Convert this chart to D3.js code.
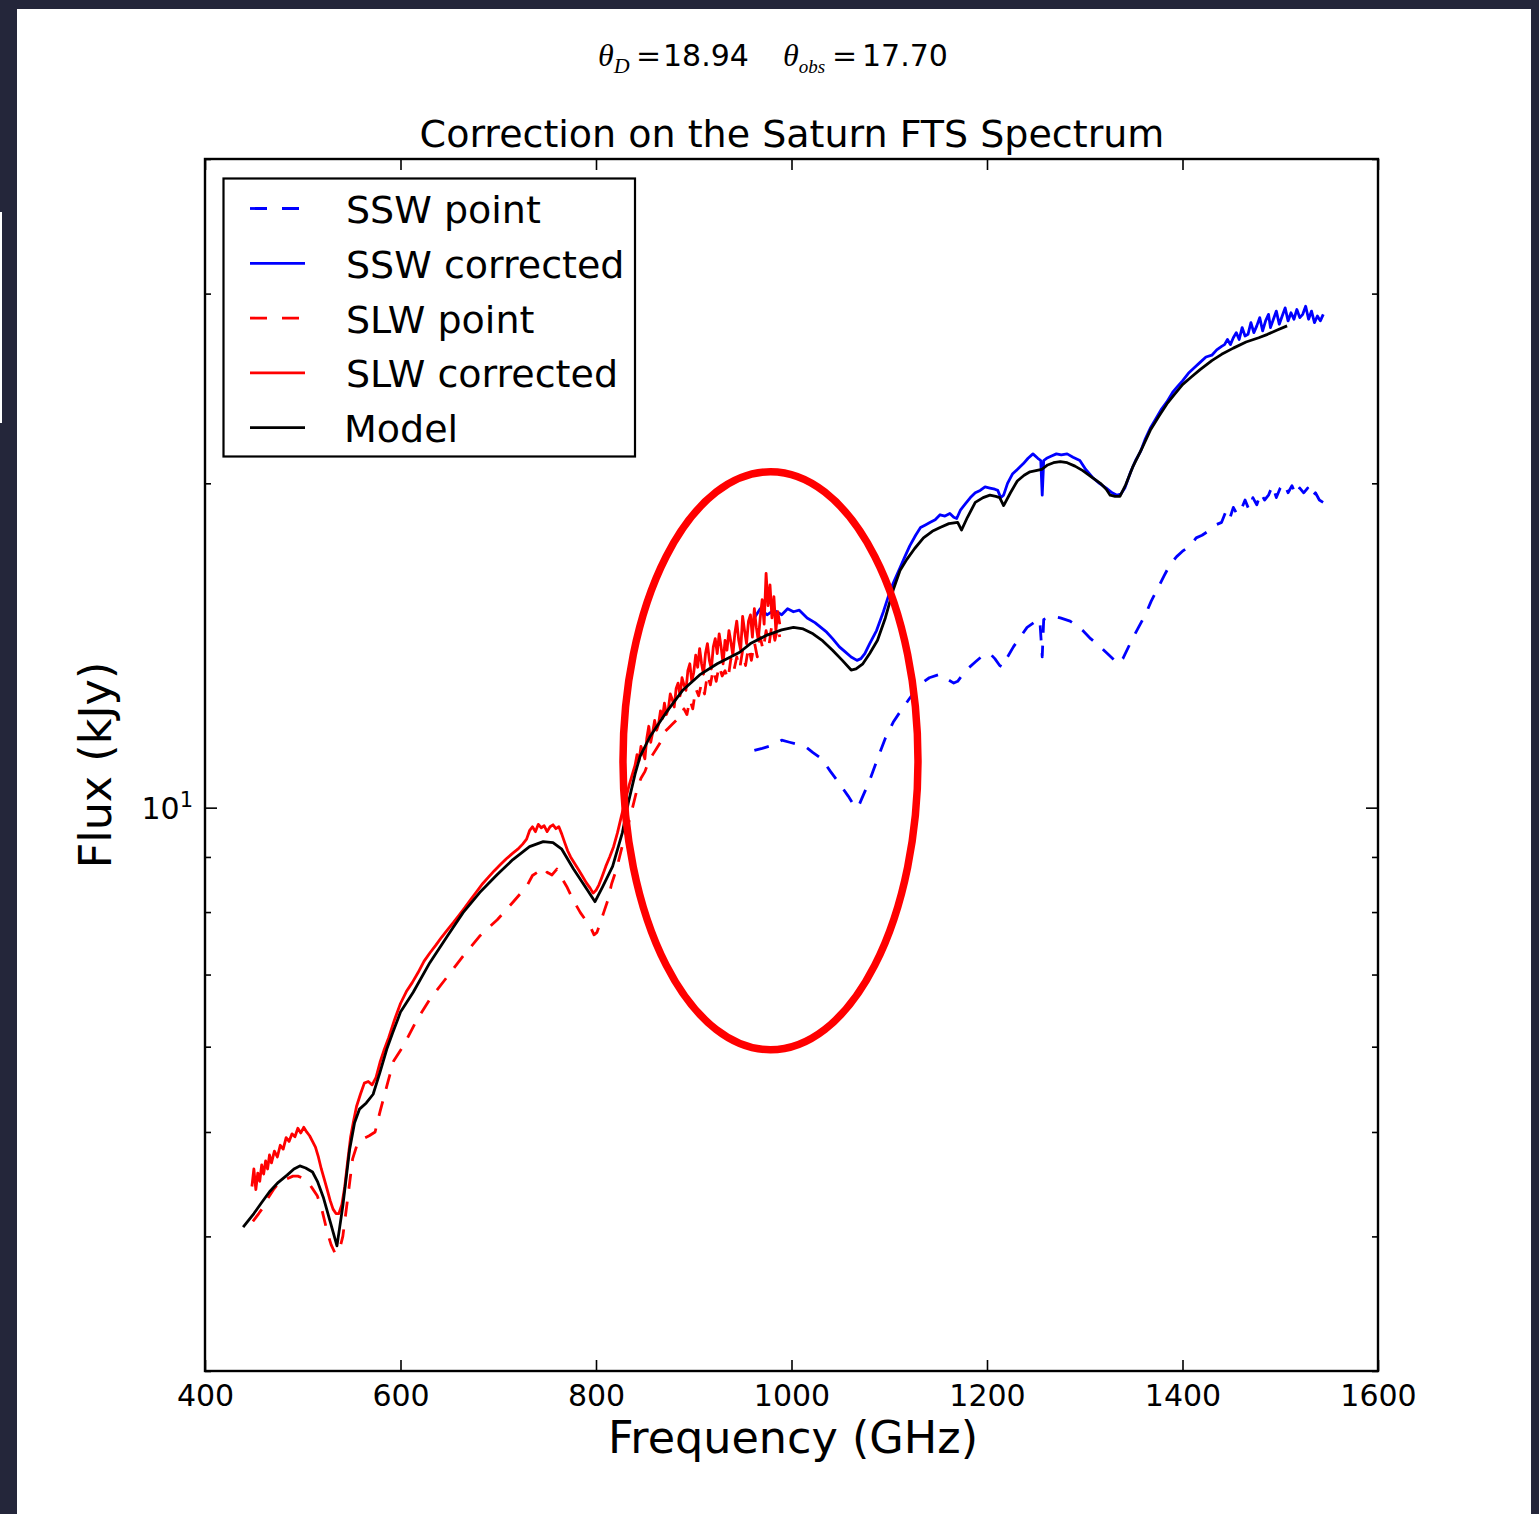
<!DOCTYPE html>
<html>
<head>
<meta charset="utf-8">
<script src="https://cdn.jsdelivr.net/npm/d3@7"></script>
<style>
  html, body { margin: 0; padding: 0; background: #24263a; }
  svg { display: block; }
  text { fill: #000; }
</style>
</head>
<body>
<svg id="chart" width="1539" height="1514" font-family="DejaVu Sans, sans-serif"></svg>
<script>
// ---- Data -------------------------------------------------------------
const xTicks = [400, 600, 800, 1000, 1200, 1400, 1600];
const yMajorTicks = [10];
const yMinorTicks = [3, 4, 5, 6, 7, 8, 9, 20, 30, 40];

const seriesNames = ["SSW point", "SSW corrected", "SLW point", "SLW corrected", "Model"];

// Model spectrum
const modelFreq = [439,450,458,466,475,484,491,497,503,510,515,521,528,535,541,548,553,558,565,572,579,586,592,600,613,630,648,664,681,699,715,732,746,756,765,777,791,799,807,817,827,833,840,845,855,873,889,906,924,947,958,975,990,1002,1012,1022,1032,1042,1052,1061,1066,1073,1080,1088,1096,1104,1111,1118,1126,1135,1144,1152,1161,1170,1174,1180,1188,1196,1203,1209,1213,1217,1224,1231,1238,1244,1250,1256,1262,1268,1275,1282,1290,1298,1306,1316,1322,1326,1331,1336,1342,1349,1358,1367,1376,1384,1392,1400,1409,1418,1430,1440,1452,1465,1478,1487,1497,1507];
const modelFlux = [4.08,4.2,4.3,4.40,4.49,4.56,4.62,4.65,4.63,4.59,4.5,4.35,4.13,3.92,4.27,4.82,5.1,5.25,5.32,5.42,5.68,5.97,6.18,6.46,6.74,7.18,7.6,7.99,8.34,8.67,8.95,9.2,9.3,9.28,9.15,8.77,8.39,8.18,8.45,8.82,9.48,10.1,10.75,11.15,11.63,12.3,12.86,13.28,13.6,13.94,14.2,14.46,14.62,14.7,14.65,14.5,14.28,14.0,13.7,13.42,13.45,13.6,13.9,14.3,15.0,15.92,16.6,17.0,17.4,17.8,18.05,18.2,18.35,18.4,18.1,18.6,19.2,19.4,19.5,19.45,19.4,19.07,19.6,20.1,20.35,20.5,20.55,20.6,20.8,20.9,20.95,20.9,20.75,20.55,20.3,20.0,19.75,19.5,19.45,19.45,19.95,20.7,21.5,22.4,23.1,23.7,24.2,24.7,25.1,25.5,26.0,26.35,26.7,27.05,27.3,27.5,27.75,28.0];

// SLW, corrected
const slwCorrFreq = [448,450,452,454,456,458,460,462,464,466,468,471,474,477,480,483,486,489,492,495,498,501,504,507,510,513,516,519,522,525,528,531,534,537,540,543,546,549,552,555,559,563,567,571,575,579,583,588,594,600,606,612,618,624,630,636,642,648,654,660,666,672,678,684,690,696,702,708,714,720,725,729,732,735,738,741,744,747,750,753,756,759,762,765,768,771,774,778,782,786,790,794,797,800,803,806,810,814,818,822,826,830,834,838,840,842,844,846,848,850,852,854,856,858,860,862,864,866,868,870,872,874,876,878,880,882,884,886,888,890,892,894,896,898,900,902,904,906,908,910,912,914,916,918,920,922,924,926,928,930,932,934,936,938,940,942,944,946,948,950,952,954,956,958,960,962,964,966,968,970,972,974,976,978,980,982,984,986,988];
const slwCorrFlux = [4.45,4.62,4.42,4.58,4.5,4.66,4.57,4.7,4.62,4.76,4.68,4.8,4.74,4.86,4.82,4.94,4.9,4.98,4.95,5.04,4.99,5.05,5.0,4.96,4.9,4.84,4.74,4.62,4.52,4.42,4.32,4.24,4.2,4.2,4.28,4.45,4.7,4.95,5.12,5.28,5.42,5.55,5.57,5.53,5.62,5.8,5.95,6.12,6.36,6.58,6.75,6.88,7.03,7.2,7.33,7.45,7.58,7.7,7.82,7.95,8.08,8.22,8.36,8.5,8.62,8.74,8.85,8.96,9.06,9.15,9.25,9.35,9.52,9.6,9.5,9.65,9.58,9.62,9.5,9.6,9.64,9.56,9.6,9.45,9.28,9.12,9.0,8.88,8.76,8.64,8.52,8.42,8.33,8.38,8.48,8.62,8.82,9.0,9.2,9.48,9.82,10.15,10.5,10.8,10.95,11.2,11.05,11.4,11.25,11.1,11.6,11.9,11.5,11.75,12.05,11.8,11.95,12.3,12.1,12.5,12.2,12.35,12.75,12.6,12.4,12.9,13.05,12.7,13.2,13.0,12.85,13.4,13.6,13.1,13.35,13.85,13.5,14.05,13.6,13.3,13.9,14.2,13.7,13.45,14.1,14.35,13.9,14.5,14.1,13.6,14.3,14.0,14.6,14.25,13.85,14.5,14.9,14.3,14.0,15.05,14.6,14.2,14.9,15.1,14.4,15.3,14.7,14.3,15.0,15.6,14.8,16.5,15.4,16.1,15.0,15.7,14.6,15.2,14.8];

// SLW, point source
const slwPointFreq = [449,455,459,465,470,477,483,490,495,500,505,510,515,520,525,529,533,537,541,546,551,556,562,568,574,579,587,593,603,617,630,648,664,681,699,715,729,735,740,745,750,755,760,765,770,777,784,790,794,798,801,804,808,812,816,821,828,835,842,846,850,854,858,862,866,870,874,878,882,886,890,893,896,899,902,905,908,911,914,917,920,923,926,929,932,935,938,941,944,947,950,953,956,959,962,965,968,971,974,977,980,983,986,988];
const slwPointFlux = [4.13,4.2,4.25,4.35,4.42,4.5,4.52,4.55,4.55,4.53,4.5,4.43,4.36,4.22,4.04,3.93,3.86,3.87,4.0,4.34,4.72,4.88,4.93,4.96,5.0,5.22,5.56,5.82,6.01,6.36,6.64,6.97,7.28,7.6,7.87,8.17,8.45,8.65,8.71,8.62,8.71,8.66,8.77,8.6,8.45,8.2,7.99,7.85,7.76,7.62,7.66,7.8,8.0,8.2,8.5,8.77,9.3,9.8,10.4,10.65,10.8,11.05,11.2,11.35,11.5,11.75,11.85,11.95,12.05,12.1,12.35,12.2,12.6,12.35,12.9,12.7,13.05,12.75,13.3,13.0,13.45,13.1,13.55,13.25,13.4,13.15,13.75,13.4,13.8,13.45,14.0,13.55,14.1,13.7,14.25,13.8,14.4,14.0,14.6,14.15,14.8,14.3,14.7,14.4];

// SSW, corrected
const sswCorrFreq = [962,968,975,982,990,996,1002,1008,1016,1024,1030,1036,1042,1049,1055,1061,1067,1071,1075,1080,1087,1094,1100,1104,1111,1116,1121,1127,1132,1137,1142,1147,1152,1157,1162,1166,1169,1173,1178,1183,1188,1193,1198,1203,1208,1211,1214,1217,1221,1226,1231,1237,1242,1247,1252,1255,1256.5,1258,1261,1266,1271,1276,1282,1288,1295,1301,1308,1315,1322,1328,1333,1337,1341,1347,1352,1357,1362,1367,1372,1378,1384,1390,1395,1400,1406,1412,1418,1424,1430,1435,1440,1443,1446,1449,1452,1455,1458,1461,1464,1467,1470,1473,1476,1479,1482,1485,1488,1490,1493,1496,1499,1502,1505,1508,1511,1514,1517,1520,1523,1526,1529,1532,1535,1538,1541,1544];
const sswCorrFlux = [15.0,15.3,15.1,15.25,15.1,15.3,15.2,15.25,15.0,14.85,14.7,14.55,14.35,14.1,13.95,13.8,13.7,13.75,13.9,14.2,14.6,15.2,15.8,16.15,16.7,17.1,17.5,17.9,18.2,18.3,18.4,18.5,18.7,18.65,18.75,18.6,18.55,18.9,19.15,19.4,19.6,19.7,19.85,19.8,19.75,19.7,19.4,19.5,20.0,20.4,20.6,20.85,21.1,21.3,21.1,21.0,19.5,21.0,21.1,21.2,21.3,21.25,21.3,21.15,21.0,20.6,20.25,20.0,19.8,19.6,19.5,19.55,19.8,20.5,21.0,21.4,22.0,22.5,22.9,23.4,23.8,24.3,24.6,24.9,25.3,25.6,25.9,26.2,26.3,26.6,26.8,26.9,27.2,26.9,27.3,27.6,27.2,27.9,27.4,27.5,28.2,27.6,28.0,28.5,27.7,28.3,28.7,27.9,28.4,28.9,28.1,28.6,29.1,28.3,28.8,28.4,29.0,28.5,28.7,29.2,28.4,28.9,28.2,28.6,28.3,28.7];

// SSW, point source
const sswPointFreq = [962,970,977,983,990,998,1006,1014,1022,1031,1040,1050,1058,1064,1068,1072,1080,1088,1096,1104,1111,1120,1131,1141,1152,1160,1166,1170,1178,1188,1196,1203,1208,1213,1216,1221,1227,1234,1241,1248,1254,1256.5,1258,1262,1268,1275,1285,1292,1298,1306,1316,1325,1334,1339,1348,1355,1362,1368,1375,1381,1387,1394,1400,1408,1414,1420,1428,1434,1440,1444,1448,1452,1456,1460,1464,1468,1472,1476,1480,1484,1488,1492,1496,1500,1504,1508,1512,1516,1520,1524,1528,1532,1536,1540,1544];
const sswPointFlux = [11.3,11.35,11.4,11.45,11.55,11.5,11.45,11.4,11.25,11.1,10.8,10.5,10.25,10.05,10.0,10.2,10.6,11.1,11.6,12.0,12.27,12.6,13.0,13.2,13.3,13.15,13.05,13.1,13.4,13.65,13.85,13.9,13.75,13.55,13.5,13.8,14.1,14.4,14.7,14.85,14.95,13.8,14.95,15.0,15.05,15.0,14.9,14.75,14.6,14.35,14.1,13.85,13.6,13.75,14.3,14.7,15.1,15.55,16.0,16.4,16.8,17.1,17.3,17.5,17.8,17.9,18.1,18.3,18.4,18.8,18.5,19.0,18.7,18.9,19.3,18.9,19.4,19.1,19.6,19.3,19.5,19.9,19.4,19.8,20.0,19.6,19.9,19.5,19.8,19.6,19.8,19.4,19.6,19.3,19.2];

// Highlighted region (frequency and flux bounds of the ellipse)
const highlightFreq = [827.6, 1129.4];
const highlightFlux = [5.96, 20.5];

// ---- Layout -----------------------------------------------------------
const svg = d3.select("#chart");
const plot = { left: 205, right: 1378, top: 159, bottom: 1371 };

svg.append("rect").attr("x", 17).attr("y", 9).attr("width", 1514).attr("height", 1505).attr("fill", "#ffffff");
svg.append("rect").attr("x", 0).attr("y", 212).attr("width", 2).attr("height", 211).attr("fill", "#ffffff");

const x = d3.scaleLinear().domain([400, 1600]).range([plot.left, plot.right]);
const y = d3.scaleLog().domain([3, 40]).range([plot.bottom, plot.top]);

svg.append("clipPath").attr("id", "plotclip")
  .append("rect").attr("x", plot.left).attr("y", plot.top)
  .attr("width", plot.right - plot.left).attr("height", plot.bottom - plot.top);

const line = d3.line().x(d => x(d[0])).y(d => y(d[1]));
const zip = (a, b) => a.map((v, i) => [v, b[i]]);

const series = [
  { name: seriesNames[0], data: zip(sswPointFreq, sswPointFlux), color: "#0000ff", dash: "15,13" },
  { name: seriesNames[1], data: zip(sswCorrFreq, sswCorrFlux), color: "#0000ff", dash: null },
  { name: seriesNames[2], data: zip(slwPointFreq, slwPointFlux), color: "#ff0000", dash: "15,13" },
  { name: seriesNames[3], data: zip(slwCorrFreq, slwCorrFlux), color: "#ff0000", dash: null },
  { name: seriesNames[4], data: zip(modelFreq, modelFlux), color: "#000000", dash: null }
];

const g = svg.append("g").attr("clip-path", "url(#plotclip)");
series.forEach(s => {
  g.append("path").datum(s.data)
    .attr("d", line)
    .attr("fill", "none")
    .attr("stroke", s.color)
    .attr("stroke-width", 2.8)
    .attr("stroke-linejoin", "round")
    .attr("stroke-dasharray", s.dash);
});

// ---- Axes (ticks point inward on all four sides) ------------------------
const tickFont = 30;
const axB = d3.axisBottom(x).tickValues(xTicks).tickSizeInner(-11).tickSizeOuter(0).tickPadding(14).tickFormat(d3.format("d"));
const axT = d3.axisTop(x).tickValues(xTicks).tickSizeInner(-11).tickSizeOuter(0).tickFormat("");
const axL = d3.axisLeft(y).tickValues(yMajorTicks).tickSizeInner(-12).tickSizeOuter(0).tickPadding(13).tickFormat(d => "10");
const axR = d3.axisRight(y).tickValues(yMajorTicks).tickSizeInner(-12).tickSizeOuter(0).tickFormat("");
const axLm = d3.axisLeft(y).tickValues(yMinorTicks).tickSizeInner(-6).tickSizeOuter(0).tickFormat("");
const axRm = d3.axisRight(y).tickValues(yMinorTicks).tickSizeInner(-6).tickSizeOuter(0).tickFormat("");

function styleAxis(sel) {
  sel.select(".domain").remove();
  sel.selectAll(".tick line").attr("stroke", "#000").attr("stroke-width", 1.6);
  sel.selectAll(".tick text").style("font-family", "'DejaVu Sans', sans-serif").attr("font-size", tickFont).attr("fill", "#000");
}
svg.append("g").attr("transform", `translate(0,${plot.bottom})`).call(axB).call(styleAxis);
svg.append("g").attr("transform", `translate(0,${plot.top})`).call(axT).call(styleAxis);
const gl = svg.append("g").attr("transform", `translate(${plot.left},0)`).call(axL).call(styleAxis);
svg.append("g").attr("transform", `translate(${plot.right},0)`).call(axR).call(styleAxis);
svg.append("g").attr("transform", `translate(${plot.left},0)`).call(axLm).call(styleAxis);
svg.append("g").attr("transform", `translate(${plot.right},0)`).call(axRm).call(styleAxis);

// 10^1 label with superscript exponent
gl.selectAll(".tick text").each(function(d) {
  const t = d3.select(this);
  t.text("").attr("dy", "0.36em").attr("x", -12);
  t.append("tspan").text("10");
  t.append("tspan").text(Math.round(Math.log10(d))).attr("font-size", 21).attr("dy", -12);
});

// Frame
svg.append("rect").attr("x", plot.left).attr("y", plot.top)
  .attr("width", plot.right - plot.left).attr("height", plot.bottom - plot.top)
  .attr("fill", "none").attr("stroke", "#000").attr("stroke-width", 2.4);

// ---- Highlight ellipse ---------------------------------------------------
const ex0 = x(highlightFreq[0]), ex1 = x(highlightFreq[1]);
const ey0 = y(highlightFlux[1]), ey1 = y(highlightFlux[0]);
svg.append("ellipse")
  .attr("cx", (ex0 + ex1) / 2).attr("cy", (ey0 + ey1) / 2)
  .attr("rx", (ex1 - ex0) / 2).attr("ry", (ey1 - ey0) / 2)
  .attr("fill", "none").attr("stroke", "#ff0000").attr("stroke-width", 7.5);

// ---- Titles and labels ---------------------------------------------------
const sans = "'DejaVu Sans', sans-serif";
svg.append("text").attr("x", 792).attr("y", 147).attr("text-anchor", "middle")
  .style("font-family", sans).attr("font-size", 38).text("Correction on the Saturn FTS Spectrum");

svg.append("text").attr("x", 793).attr("y", 1453).attr("text-anchor", "middle")
  .style("font-family", sans).attr("font-size", 44.5).text("Frequency (GHz)");

svg.append("text").attr("transform", "translate(111,765) rotate(-90)").attr("text-anchor", "middle")
  .style("font-family", sans).attr("font-size", 44.5).text("Flux (kJy)");

// Super-title with the two beam sizes
const sup = svg.append("g");
const mathFont = "'Liberation Serif', 'DejaVu Serif', serif";
function mathLabel(x0, sub, subSize, xEq, xNum, num) {
  sup.append("text").attr("x", x0).attr("y", 66).style("font-family", mathFont).style("font-style", "italic")
    .attr("font-size", 32).text("θ")
    .append("tspan").attr("font-size", subSize).attr("dy", 7).text(sub);
  sup.append("text").attr("x", xEq).attr("y", 66).style("font-family", "'DejaVu Serif', serif").attr("font-size", 30).text("=");
  sup.append("text").attr("x", xNum).attr("y", 66).style("font-family", sans).attr("font-size", 30).text(num);
}
mathLabel(598, "D", 22, 636, 663, "18.94");
mathLabel(783, "obs", 19, 832, 862, "17.70");

// ---- Legend --------------------------------------------------------------
const legend = svg.append("g");
legend.append("rect").attr("x", 223.5).attr("y", 178.5).attr("width", 411.5).attr("height", 278)
  .attr("fill", "#fff").attr("stroke", "#000").attr("stroke-width", 2.2);
series.forEach((s, i) => {
  const ly = 208.5 + i * 54.8;
  legend.append("line").attr("x1", 250).attr("x2", 305).attr("y1", ly).attr("y2", ly)
    .attr("stroke", s.color).attr("stroke-width", 2.8).attr("stroke-dasharray", s.dash ? "17,15" : null);
  legend.append("text").attr("x", s.name === "Model" ? 344 : 346).attr("y", ly + 14.5)
    .style("font-family", sans).attr("font-size", 38).text(s.name);
});
</script>
</body>
</html>
